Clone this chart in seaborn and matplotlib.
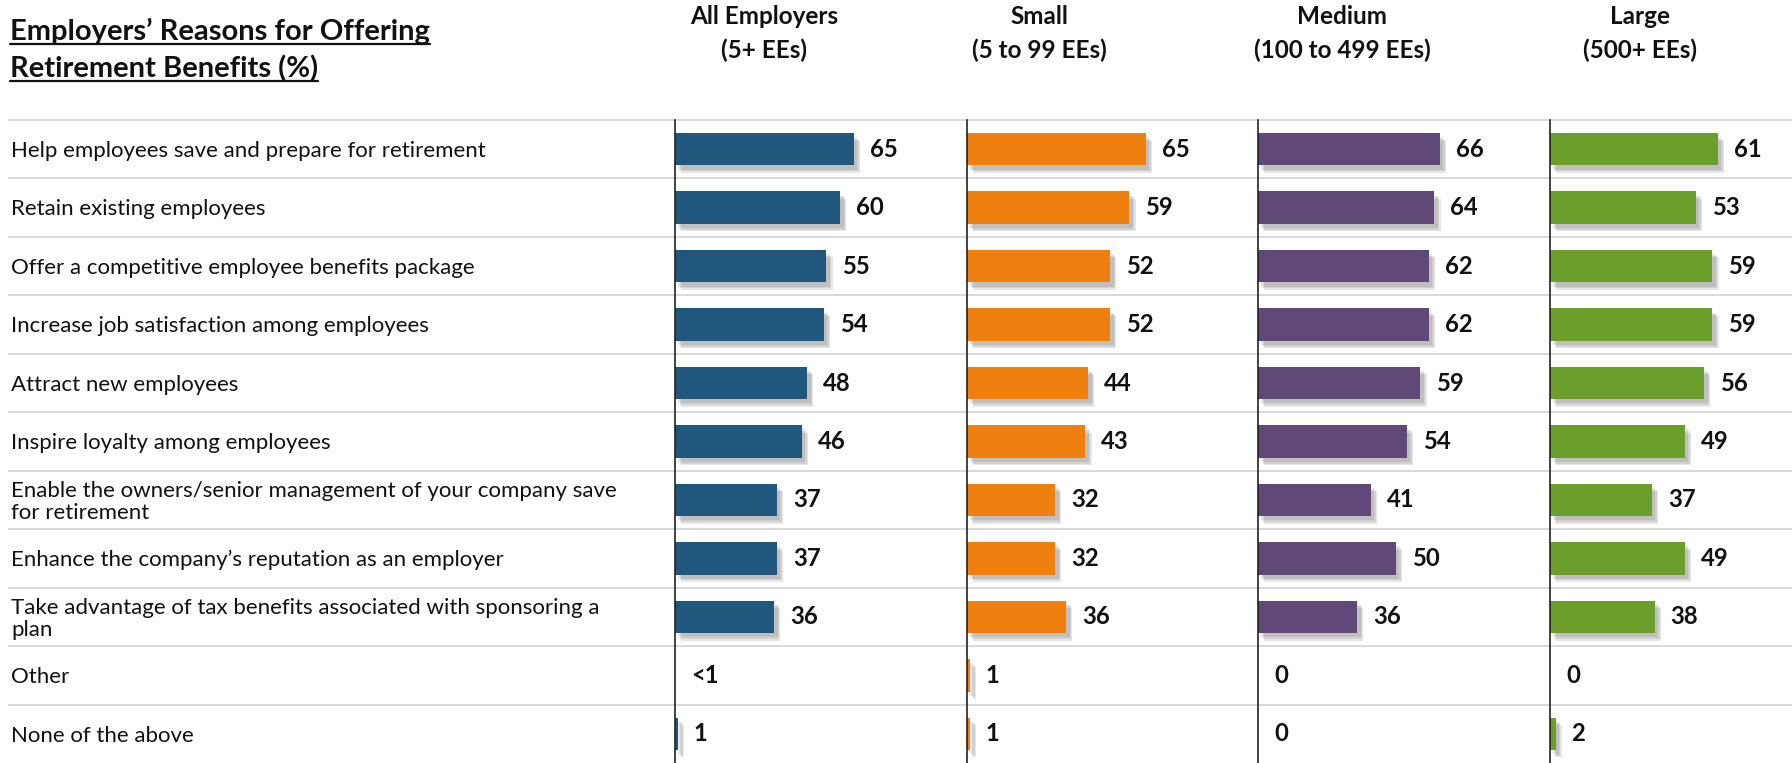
import matplotlib
matplotlib.use("Agg")
import matplotlib.pyplot as plt
import matplotlib.patheffects as pe
import seaborn as sns

# data
reasons = [
    "Help employees save and prepare for retirement",
    "Retain existing employees",
    "Offer a competitive employee benefits package",
    "Increase job satisfaction among employees",
    "Attract new employees",
    "Inspire loyalty among employees",
    "Enable the owners/senior management of your company save\nfor retirement",
    "Enhance the company\u2019s reputation as an employer",
    "Take advantage of tax benefits associated with sponsoring a\nplan",
    "Other",
    "None of the above",
]
all_emp = [65, 60, 55, 54, 48, 46, 37, 37, 36, 0, 1]
small = [65, 59, 52, 52, 44, 43, 32, 32, 36, 1, 1]
medium = [66, 64, 62, 62, 59, 54, 41, 50, 36, 0, 0]
large = [61, 53, 59, 59, 56, 49, 37, 49, 38, 0, 2]
all_emp_text = ["65", "60", "55", "54", "48", "46", "37", "37", "36", "<1", "1"]

header_top = ["All Employers", "Small", "Medium", "Large"]
header_sub = ["(5+ EEs)", "(5 to 99 EEs)", "(100 to 499 EEs)", "(500+ EEs)"]
colors = ["#1F587C", "#EF800F", "#604878", "#6B9E2A"]

sns.set_style("white")
plt.rcParams["font.family"] = ["Lato", "DejaVu Sans"]

W, H = 1792, 763
fig = plt.figure(figsize=(W / 100, H / 100), dpi=100)
top_px = 120
top = 1 - top_px / H

# background: row separators and category labels
bg = fig.add_axes([0, 0, 1, top])
bg.set_xlim(0, W)
bg.set_ylim(len(reasons) - 0.5, -0.5)
bg.axis("off")
for k in range(len(reasons)):
    bg.hlines(k - 0.5, 8, W, color="#d9d9d9", lw=1.4, clip_on=False)
    bg.text(11, k + 0.03, reasons[k], fontsize=16, va="center", ha="left",
            linespacing=1.12, color="#111111")

# soft drop shadow under the bars
shadow = [pe.SimplePatchShadow(offset=(o, -1.2 * o), shadow_rgbFace="#666666", alpha=0.16)
          for o in (4.5, 3.5, 2.5)] + [pe.Normal()]

# panels
panel_left = [675, 967, 1258, 1550]
panel_w = 291.3
px_per_unit = 2.754
header_off = [89, 72, 84, 90]
series = [all_emp, small, medium, large]
texts = [all_emp_text, [str(v) for v in small], [str(v) for v in medium],
         [str(v) for v in large]]

for i in range(4):
    ax = fig.add_axes([panel_left[i] / W, 0, panel_w / W, top])
    ax.patch.set_alpha(0)
    sns.barplot(x=series[i], y=list(range(len(reasons))), orient="h",
                color=colors[i], saturation=1, width=0.555, linewidth=0, ax=ax)
    ax.set_xlim(0, panel_w / px_per_unit)
    ax.set_ylim(len(reasons) - 0.5, -0.5)
    for bar in ax.patches:
        bar.set_path_effects(shadow)
    for j, v in enumerate(series[i]):
        ax.annotate(texts[i][j], (v, j), xytext=(11.5, 0), textcoords="offset points",
                    ha="left", va="center", fontsize=17.2, fontweight="bold", color="#111111")
    ax.set_xticks([])
    ax.set_yticks([])
    ax.set_xlabel("")
    ax.set_ylabel("")
    for s in ["top", "right", "bottom"]:
        ax.spines[s].set_visible(False)
    ax.spines["left"].set_color("#222222")
    ax.spines["left"].set_linewidth(1.2)

    hx = (panel_left[i] + header_off[i]) / W
    fig.text(hx, 1 - 24 / H, header_top[i], ha="center", va="baseline",
             fontsize=17.5, fontweight="bold", color="#111111")
    fig.text(hx, 1 - 58 / H, header_sub[i], ha="center", va="baseline",
             fontsize=17.5, fontweight="bold", color="#111111")

# title with underline
title_lines = ["Employers\u2019 Reasons for Offering", "Retirement Benefits (%)"]
baselines = [40, 77]
renderer = fig.canvas.get_renderer()
for line, yb in zip(title_lines, baselines):
    t = fig.text(10 / W, 1 - yb / H, line, ha="left", va="baseline",
                 fontsize=21, fontweight="bold", color="#111111")
    bb = t.get_window_extent(renderer=renderer)
    uy = 1 - (yb + 4) / H
    fig.add_artist(plt.Line2D([bb.x0 / W, bb.x1 / W], [uy, uy],
                              color="#111111", lw=1.6))

fig.savefig("out.png", dpi=100)
